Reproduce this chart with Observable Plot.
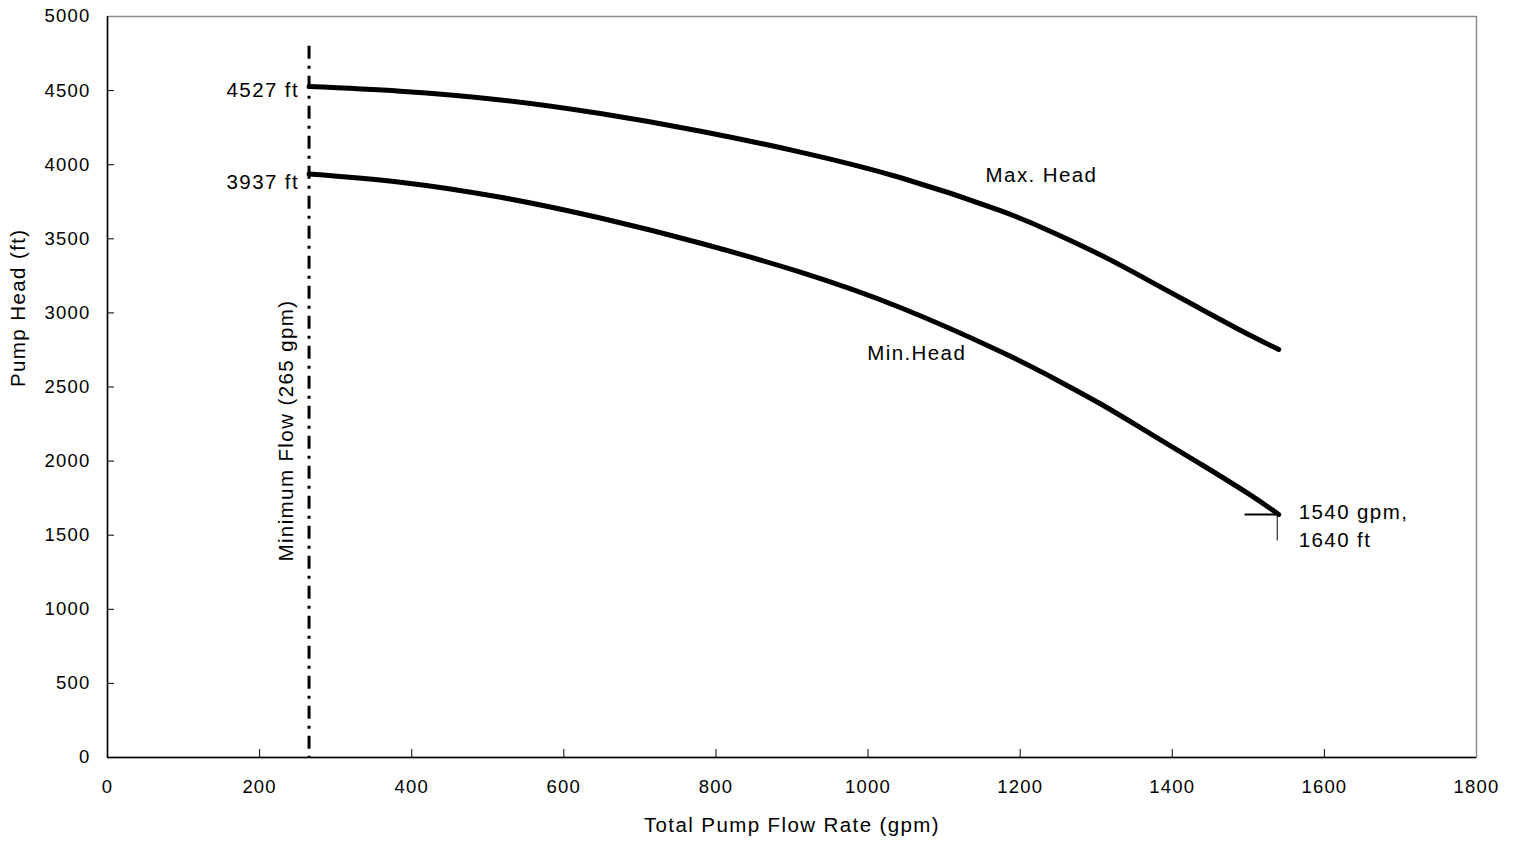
<!DOCTYPE html>
<html>
<head>
<meta charset="utf-8">
<script src="https://cdn.jsdelivr.net/npm/d3@7"></script>
<script src="https://cdn.jsdelivr.net/npm/@observablehq/plot@0.6"></script>
<style>
  html, body { margin: 0; padding: 0; background: white; }
  #chart svg text { letter-spacing: 1.2px; }
  #chart svg g[aria-label="text"] text { letter-spacing: 1.4px; }
</style>
</head>
<body>
<div id="chart"></div>
<script>
// ---- data ----
const flow    = [265, 385, 517, 648, 780, 911, 1043, 1174, 1240, 1306, 1371, 1440, 1503, 1540];
const maxHead = [4527, 4496, 4437, 4345, 4226, 4085, 3912, 3690, 3550, 3390, 3213, 3020, 2847, 2753];
const minHead = [3937, 3882, 3780, 3640, 3470, 3275, 3035, 2740, 2570, 2385, 2185, 1972, 1770, 1640];

const xTicks = [0, 200, 400, 600, 800, 1000, 1200, 1400, 1600, 1800];
const yTicks = [0, 500, 1000, 1500, 2000, 2500, 3000, 3500, 4000, 4500, 5000];

const minFlow = 265;
const minFlowTop = 4800;
const minFlowLabel = "Minimum Flow (265 gpm)";

const maxStartLabel = {x: 265, y: 4527, text: "4527 ft"};
const minStartLabel = {x: 265, y: 3937, text: "3937 ft"};
const curveLabels = [
  {x: 1228, y: 3927, text: "Max. Head"},
  {x: 1064, y: 2726, text: "Min.Head"}
];
const endPoint = {x: 1540, y: 1640, text: "1540 gpm,\n1640 ft"};
const endHoriz = [{x1: 1495, x2: 1540, y: 1640}];
const endVert = [{x: 1538, y1: 1640, y2: 1464}];

const xLabel = "Total Pump Flow Rate (gpm)";
const yLabel = "Pump Head (ft)";

// ---- build ----
const maxData = flow.map((f, i) => ({flow: f, head: maxHead[i]}));
const minData = flow.map((f, i) => ({flow: f, head: minHead[i]}));

const W = 1517, H = 844, mL = 107, mR = 41, mT = 16, mB = 87;
const plotW = W - mL - mR, plotH = H - mT - mB;
const font = "'Liberation Sans', Arial, Helvetica, sans-serif";
const fs = 20.5;

const chart = Plot.plot({
  width: W, height: H,
  marginLeft: mL, marginRight: mR, marginTop: mT, marginBottom: mB,
  style: {fontFamily: font, fontSize: "18.5px", color: "black", background: "white", overflow: "visible"},
  x: {domain: [0, 1800], ticks: xTicks, tickSize: 0, tickPadding: 22, label: null, tickFormat: d => String(d)},
  y: {domain: [0, 5000], ticks: yTicks, tickSize: 0, tickPadding: 17, label: null, tickFormat: d => String(d)},
  marks: [
    Plot.frame({stroke: "#8c8c8c", strokeWidth: 1.5}),
    Plot.tickX(xTicks.slice(1, -1), {x: d => d, insetTop: plotH - 8, stroke: "black", strokeWidth: 1}),
    Plot.tickY(yTicks.slice(1, -1), {y: d => d, insetRight: plotW - 7, stroke: "black", strokeWidth: 1}),
    Plot.ruleX([0], {stroke: "black", strokeWidth: 1.5}),
    Plot.ruleY([0], {stroke: "black", strokeWidth: 1.5}),
    Plot.ruleX([minFlow], {x: d => d, y1: minFlowTop, y2: 0, stroke: "black", strokeWidth: 3, strokeDasharray: "13,7,3,7"}),
    Plot.text([minFlowLabel], {x: 235, y: 2206, text: d => d, rotate: -90, fontSize: fs, fill: "black"}),
    Plot.line(maxData, {x: "flow", y: "head", curve: "natural", stroke: "black", strokeWidth: 5, strokeLinecap: "round", strokeLinejoin: "round"}),
    Plot.line(minData, {x: "flow", y: "head", curve: "natural", stroke: "black", strokeWidth: 5, strokeLinecap: "round", strokeLinejoin: "round"}),
    Plot.link(endHoriz, {x1: "x1", x2: "x2", y1: "y", y2: "y", stroke: "black", strokeWidth: 2}),
    Plot.link(endVert, {x1: "x", x2: "x", y1: "y1", y2: "y2", stroke: "black", strokeWidth: 1}),
    Plot.text([maxStartLabel], {x: "x", y: "y", text: "text", textAnchor: "end", dx: -10, dy: 4, fontSize: fs, fill: "black"}),
    Plot.text([minStartLabel], {x: "x", y: "y", text: "text", textAnchor: "end", dx: -10, dy: 8, fontSize: fs, fill: "black"}),
    Plot.text(curveLabels, {x: "x", y: "y", text: "text", textAnchor: "middle", fontSize: fs, fill: "black"}),
    Plot.text([endPoint], {x: "x", y: "y", text: "text", textAnchor: "start", dx: 20, dy: 10, lineHeight: 1.37, fontSize: fs, fill: "black"}),
    Plot.text([xLabel], {frameAnchor: "bottom", lineAnchor: "middle", dy: 68, text: d => d, fontSize: fs, fill: "black"}),
    Plot.text([yLabel], {frameAnchor: "left", lineAnchor: "middle", dx: -89, rotate: -90, text: d => d, fontSize: fs, fill: "black"})
  ]
});
document.getElementById("chart").appendChild(chart);
</script>
</body>
</html>
